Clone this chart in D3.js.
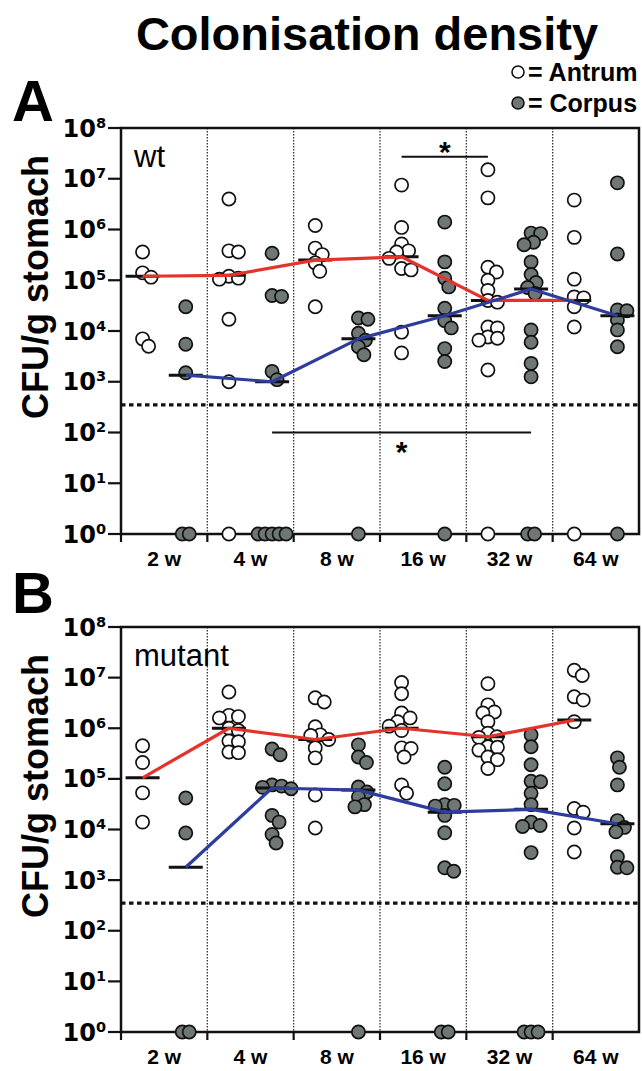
<!DOCTYPE html>
<html>
<head>
<meta charset="utf-8">
<script src="https://cdn.jsdelivr.net/npm/d3@7"></script>
<style>
  html, body { margin: 0; padding: 0; background: #fff; }
  svg { display: block; }
</style>
</head>
<body>
<svg id="chart" width="642" height="1071"></svg>
<script>
// ---------------- DATA ----------------
const weeks = ["2 w", "4 w", "8 w", "16 w", "32 w", "64 w"];
const tickExponents = [0, 1, 2, 3, 4, 5, 6, 7, 8];
const detectionLimit = 350;

// Panel A (wt) – CFU/g, value 1 = below detection (plotted at 10^0)
const wtAntrum = [
  [3.6e5, 1.4e5, 1.15e5, 7e3, 5e3],
  [4e6, 3.8e5, 3.6e5, 1.2e5, 1.1e5, 1.05e5, 1.7e4, 1e3, 1],
  [1.2e6, 4.3e5, 3.2e5, 2.2e5, 1.5e5, 3e4],
  [7.5e6, 1.1e6, 5.2e5, 3.8e5, 3.6e5, 2.7e5, 1.7e5, 1.6e5, 9.5e3, 3.7e3],
  [1.5e7, 4.2e6, 1.8e5, 1.45e5, 1e5, 6.3e4, 4e4, 3.7e4, 1.2e4, 1.15e4, 7.6e3, 7.2e3, 6.6e3, 1.7e3, 1],
  [3.8e6, 7e5, 1.05e5, 4.7e4, 4.5e4, 3e4, 1.2e4, 1]
];
const wtCorpus = [
  [3e4, 5.5e3, 1.5e3, 1, 1],
  [3.4e5, 5e4, 4.8e4, 1.6e3, 1.1e3, 1, 1, 1, 1, 1],
  [1.8e4, 1.7e4, 9e3, 6.6e3, 4.9e3, 3.4e3, 1],
  [1.4e6, 2.3e5, 1.1e5, 7.4e4, 2.8e4, 1.6e4, 1.15e4, 4.5e3, 2.5e3, 1],
  [8.5e5, 8.3e5, 5.6e5, 5e5, 2.3e5, 1.3e5, 9e4, 7.2e4, 5.5e4, 1.05e4, 6e3, 2.3e3, 1.25e3, 1, 1],
  [8.3e6, 3.3e5, 2.6e4, 2.5e4, 1.65e4, 1.05e4, 4.9e3, 1]
];
const wtAntrumMedian = [1.2e5, 1.25e5, 2.5e5, 2.9e5, 4e4, 4e4];
const wtCorpusMedian = [1.35e3, 1.0e3, 7e3, 2e4, 6.7e4, 2e4];

// Panel B (mutant)
const mutAntrum = [
  [4.5e5, 2.1e5, 5.3e4, 1.4e4],
  [5.2e6, 1.8e6, 1.7e6, 1.6e6, 1e6, 9e5, 5.6e5, 5.4e5, 3.4e5, 3.3e5],
  [4e6, 3.3e6, 1.07e6, 7.4e5, 7.2e5, 6e5, 4.1e5, 2.6e5, 4.8e4, 1.07e4],
  [8e6, 4.8e6, 2e6, 1.6e6, 1.35e6, 1.1e6, 9e5, 4.1e5, 4e5, 2.7e5, 7.6e4, 5.2e4],
  [7.6e6, 2.9e6, 2.1e6, 2e6, 1.35e6, 8e5, 6.8e5, 6.6e5, 4.3e5, 4.2e5, 3.7e5, 2.7e5, 2.4e5, 1.6e5],
  [1.4e7, 1.1e7, 4.2e6, 3.6e6, 1.35e6, 2.6e4, 2.2e4, 1.07e4, 3.6e3]
];
const mutCorpus = [
  [4.2e4, 8.5e3, 1, 1],
  [3.9e5, 3e5, 7.6e4, 7.2e4, 6.8e4, 6.4e4, 1.9e4, 1.4e4, 8e3, 5.4e3],
  [4.7e5, 2.7e5, 2.1e5, 6.9e4, 5.5e4, 4.4e4, 3.1e4, 2.8e4, 1],
  [1.7e5, 8e4, 3.1e4, 3e4, 2.9e4, 1.9e4, 8.6e3, 1.75e3, 1.5e3, 1, 1],
  [7.4e5, 4.3e5, 1.9e5, 9e4, 8.8e4, 5.2e4, 3.1e4, 1.4e4, 1.2e4, 1.15e4, 3.5e3, 1, 1, 1],
  [2.6e5, 1.7e5, 7.6e4, 1.5e4, 1.1e4, 9e3, 2.9e3, 1.8e3, 1.75e3]
];
const mutAntrumMedian = [1.05e5, 1e6, 6e5, 1e6, 6.8e5, 1.45e6];
const mutCorpusMedian = [1.8e3, 6.6e4, 6e4, 2.2e4, 2.5e4, 1.3e4];

// significance bars (panel A only)
const wtSignificance = [
  { from: "16 w", fromTissue: "antrum", to: "32 w", toTissue: "antrum", level: 2.7e7, label: "*", star: "above" },
  { from: "4 w", fromTissue: "corpus", to: "32 w", toTissue: "corpus", level: 100, label: "*", star: "below" }
];

// ---------------- STYLE / LAYOUT ----------------
const RED = "#e4332b", BLUE = "#2e3d9d", GREY = "#6f7775";
const svg = d3.select("#chart");
const sans = "'Liberation Sans', Arial, Helvetica, sans-serif";
const wide = "'DejaVu Sans', sans-serif";

svg.append("rect").attr("width", 642).attr("height", 1071).attr("fill", "#fff");

svg.append("text").attr("x", 367).attr("y", 50).attr("text-anchor", "middle")
  .attr("font-family", sans).attr("font-weight", "bold").attr("font-size", 47)
  .text("Colonisation density");

// legend
const legendItems = [{ label: "= Antrum", fill: "#fff", y: 72 }, { label: "= Corpus", fill: GREY, y: 103 }];
legendItems.forEach(d => {
  svg.append("circle").attr("cx", 518).attr("cy", d.y).attr("r", 6)
    .attr("fill", d.fill).attr("stroke", "#111").attr("stroke-width", 1.6);
  svg.append("text").attr("x", 528).attr("y", d.y + 9)
    .attr("font-family", sans).attr("font-weight", "bold").attr("font-size", 25)
    .text(d.label);
});

const x = d3.scaleBand().domain(weeks).range([121, 639]).paddingInner(0).paddingOuter(0);
const tissueFrac = { antrum: 0.25, corpus: 0.75 };
const px = (w, t) => x(w) + x.bandwidth() * tissueFrac[t];

function swarm(values, cx, y, D, floorSpacing) {
  const out = [];
  const floorPts = values.filter(v => v <= 1);
  floorPts.forEach((v, i) => out.push({ v, x: cx + (i - (floorPts.length - 1) / 2) * floorSpacing, y: y(v) }));
  const rest = values.filter(v => v > 1).map(v => ({ v, y: y(v) })).sort((a, b) => a.y - b.y);
  const placed = [];
  rest.forEach(p => {
    let chosen = 0;
    for (let k = 0; k < 200; k++) {
      const off = (k % 2 === 1 ? 1 : -1) * Math.ceil(k / 2) * 0.5;
      const ok = placed.every(q => Math.hypot(q.x - (cx + off), q.y - p.y) >= D);
      if (ok) { chosen = off; break; }
    }
    const pt = { v: p.v, x: cx + chosen, y: p.y };
    placed.push(pt); out.push(pt);
  });
  return out;
}

function drawPanel(cfg) {
  const g = svg.append("g");
  const y = d3.scaleLog().domain([1, 1e8]).range([cfg.bottom, cfg.top]);
  const L = 121, R = 639;

  g.append("text").attr("x", 12).attr("y", cfg.letterY)
    .attr("font-family", sans).attr("font-weight", "bold").attr("font-size", 58).text(cfg.letter);

  g.append("text").attr("transform", `translate(48,${cfg.top + 159}) rotate(-90)`)
    .attr("text-anchor", "middle").attr("font-family", sans).attr("font-weight", "bold")
    .attr("font-size", 36).text("CFU/g stomach");

  g.selectAll(".div").data(weeks.slice(1)).enter().append("line")
    .attr("x1", d => x(d)).attr("x2", d => x(d)).attr("y1", cfg.top).attr("y2", cfg.bottom)
    .attr("stroke", "#333").attr("stroke-width", 1.3).attr("stroke-dasharray", "1.5,1.5");

  g.append("line").attr("x1", L).attr("x2", R).attr("y1", y(detectionLimit)).attr("y2", y(detectionLimit))
    .attr("stroke", "#111").attr("stroke-width", 3.2).attr("stroke-dasharray", "4.5,3.5");

  g.append("rect").attr("x", L).attr("y", cfg.top).attr("width", R - L).attr("height", cfg.bottom - cfg.top)
    .attr("fill", "none").attr("stroke", "#111").attr("stroke-width", 2.5);

  tickExponents.forEach(e => {
    const ty = y(Math.pow(10, e));
    g.append("line").attr("x1", 108).attr("x2", L).attr("y1", ty).attr("y2", ty)
      .attr("stroke", "#111").attr("stroke-width", 2.2);
    const t = g.append("text").attr("x", 106).attr("y", ty + 8.6).attr("text-anchor", "end")
      .attr("font-family", wide).attr("font-weight", "bold").attr("font-size", 24);
    t.append("tspan").text("10");
    t.append("tspan").attr("dy", -9).attr("font-size", 14.5).text(String(e));
  });

  weeks.forEach(w => {
    g.append("line").attr("x1", x(w)).attr("x2", x(w)).attr("y1", cfg.bottom).attr("y2", cfg.bottom + 8)
      .attr("stroke", "#111").attr("stroke-width", 2.2);
    g.append("text").attr("x", x(w) + x.bandwidth() / 2).attr("y", cfg.bottom + 32)
      .attr("text-anchor", "middle").attr("font-family", sans).attr("font-weight", "bold")
      .attr("font-size", 21).text(w);
  });

  g.append("text").attr("x", 134).attr("y", cfg.top + 39).attr("font-family", sans)
    .attr("font-size", 31).text(cfg.name);

  const groups = [
    { data: cfg.antrum, tissue: "antrum", fill: "#fff" },
    { data: cfg.corpus, tissue: "corpus", fill: GREY }
  ];
  groups.forEach(grp => {
    grp.data.forEach((vals, i) => {
      const pts = swarm(vals, px(weeks[i], grp.tissue), y, 9.5, 7);
      g.selectAll(null).data(pts).enter().append("circle")
        .attr("cx", d => d.x).attr("cy", d => d.y).attr("r", 6.6)
        .attr("fill", grp.fill).attr("stroke", "#111").attr("stroke-width", 1.7);
    });
  });

  [{ m: cfg.antrumMedian, t: "antrum" }, { m: cfg.corpusMedian, t: "corpus" }].forEach(s => {
    g.selectAll(null).data(s.m).enter().append("line")
      .attr("x1", (d, i) => px(weeks[i], s.t) - 17).attr("x2", (d, i) => px(weeks[i], s.t) + 17)
      .attr("y1", d => y(d)).attr("y2", d => y(d))
      .attr("stroke", "#111").attr("stroke-width", 3);
  });

  [{ m: cfg.antrumMedian, t: "antrum", c: RED }, { m: cfg.corpusMedian, t: "corpus", c: BLUE }].forEach(s => {
    const line = d3.line().x((d, i) => px(weeks[i], s.t)).y(d => y(d));
    g.append("path").attr("d", line(s.m)).attr("fill", "none")
      .attr("stroke", s.c).attr("stroke-width", 3.2).attr("stroke-linejoin", "round");
  });

  (cfg.sig || []).forEach(s => {
    const x1 = px(s.from, s.fromTissue), x2 = px(s.to, s.toTissue), ly = y(s.level);
    g.append("line").attr("x1", x1).attr("x2", x2).attr("y1", ly).attr("y2", ly)
      .attr("stroke", "#111").attr("stroke-width", 2);
    g.append("text").attr("x", (x1 + x2) / 2).attr("y", s.star === "above" ? ly + 5 : ly + 29)
      .attr("text-anchor", "middle").attr("font-family", sans).attr("font-weight", "bold")
      .attr("font-size", 30).text(s.label);
  });
}

drawPanel({ letter: "A", letterY: 121, name: "wt", top: 128, bottom: 534,
  antrum: wtAntrum, corpus: wtCorpus, antrumMedian: wtAntrumMedian, corpusMedian: wtCorpusMedian, sig: wtSignificance });
drawPanel({ letter: "B", letterY: 613, name: "mutant", top: 627, bottom: 1032,
  antrum: mutAntrum, corpus: mutCorpus, antrumMedian: mutAntrumMedian, corpusMedian: mutCorpusMedian });
</script>
</body>
</html>
